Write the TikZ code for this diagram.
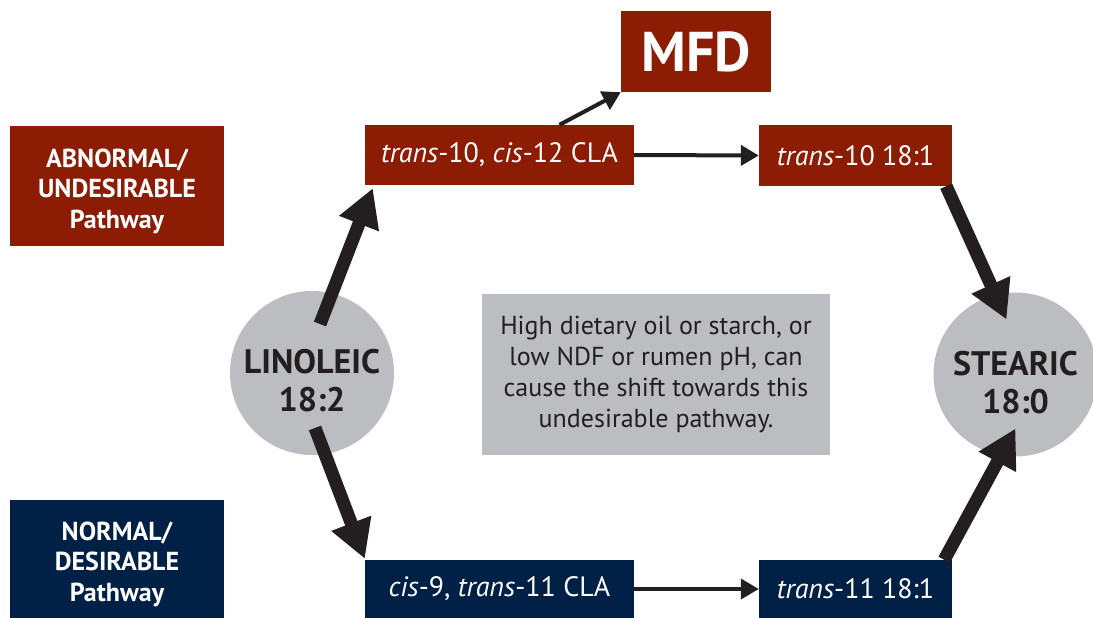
\documentclass[tikz,border=0pt]{standalone}
\usepackage{fontspec}
\setmainfont{PT Sans}
\usetikzlibrary{arrows.meta}
\definecolor{dred}{HTML}{8C1D04}
\definecolor{navy}{HTML}{002145}
\definecolor{lgray}{HTML}{BCBDC0}
\definecolor{ink}{HTML}{231F20}
\tikzset{
  redbox/.style={fill=dred,text=white,inner sep=0pt,align=center},
  bluebox/.style={fill=navy,text=white,inner sep=0pt,align=center},
  acid/.style={circle,fill=lgray,inner sep=0pt,minimum size=164pt},
  acidtext/.style={text=ink,inner sep=0pt,align=center,font=\bfseries\fontsize{34}{38}\selectfont},
  stepfont/.style={font=\fontsize{28}{30}\selectfont},
  legtext/.style={text=white,inner sep=0pt,align=center,font=\bfseries\fontsize{26}{30.5}\selectfont},
  bigarrow/.style={draw=ink,line width=13pt,-{Triangle[length=38pt,width=40pt]}},
  thinarrow/.style={draw=ink,line width=4pt,-{Triangle[length=18pt,width=20pt]}}
}
\begin{document}
\begin{tikzpicture}[x=1pt,y=-1pt]
\useasboundingbox (0,0) rectangle (1093,618);
\node[redbox,minimum width=150pt,minimum height=81pt,font=\bfseries\fontsize{56}{60}\selectfont] (mfd) at (696,51.5) {MFD};
\node[redbox,minimum width=269pt,minimum height=60pt,stepfont] (tcla) at (499.5,155) {\textit{trans}-10, \textit{cis}-12 CLA};
\node[redbox,minimum width=193pt,minimum height=61pt,stepfont] (t10) at (855.5,155.5) {\textit{trans}-10 18:1};
\node[redbox,minimum width=214pt,minimum height=120pt] (abn) at (117,186) {};
\node[legtext] (abnT) at ([yshift=-5pt]abn.center) {ABNORMAL/\\UNDESIRABLE\\Pathway};
\node[bluebox,minimum width=214pt,minimum height=118pt] (nor) at (117,559) {};
\node[legtext] (norT) at ([yshift=-5pt]nor.center) {NORMAL/\\DESIRABLE\\Pathway};
\node[bluebox,minimum width=269pt,minimum height=58pt,stepfont] (ccla) at (499.5,589) {\textit{cis}-9, \textit{trans}-11 CLA};
\node[bluebox,minimum width=193pt,minimum height=58pt,stepfont] (t11) at (855.5,589) {\textit{trans}-11 18:1};
\node[acid] (lin) at (312,373) {};
\node[acidtext] (linT) at ([yshift=-8pt]lin.center) {LINOLEIC\\18:2};
\node[acid] (ste) at (1015.5,374.5) {};
\node[acidtext] (steT) at ([yshift=-8pt]ste.center) {STEARIC\\18:0};
\node[fill=lgray,text=ink,minimum width=348pt,minimum height=161pt,inner sep=0pt,align=center,
  font=\fontsize{26}{31}\selectfont] (note) at (656,374)
  {High dietary oil or starch, or\\low NDF or rumen pH, can\\cause the shift towards this\\undesirable pathway.};
% connectors
\draw[bigarrow] ([shift={(8,-49)}]lin.center) -- ([shift={(8,3)}]tcla.south west);
\draw[bigarrow] ([shift={(3,55)}]lin.center) -- ([shift={(0,-1)}]ccla.north west);
\draw[bigarrow] ([shift={(-6,0)}]t10.south east) -- ([shift={(-9,-55)}]ste.center);
\draw[bigarrow] ([shift={(-8,0)}]t11.north west -| t11.north east) -- ([shift={(0,54)}]ste.center);
\draw[thinarrow] (tcla.east) -- (t10.west);
\draw[thinarrow] (ccla.east) -- (t11.west);
\draw[thinarrow] ([shift={(60,0)}]tcla.north) -- (mfd.south west);
\end{tikzpicture}
\end{document}
